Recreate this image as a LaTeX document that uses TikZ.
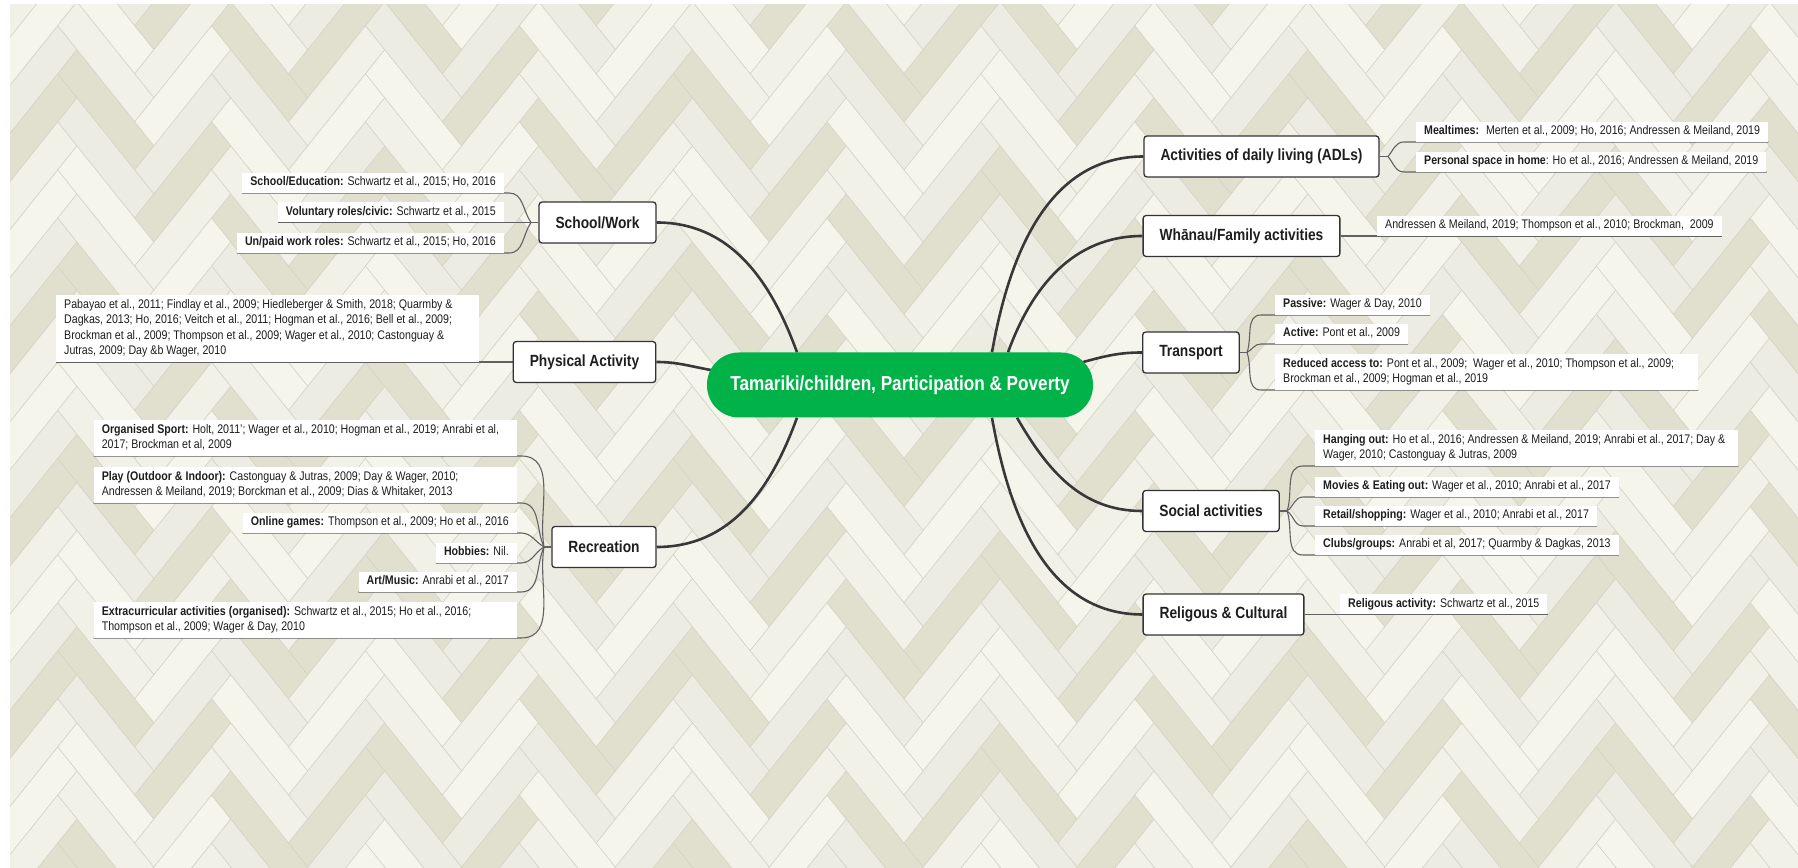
\documentclass[tikz,border=0pt]{standalone}
\usepackage{fontspec}
\setmainfont{Liberation Sans}[FakeStretch=0.85]
\usetikzlibrary{calc}
\definecolor{cgreen}{RGB}{0,178,72}
\definecolor{bgtex}{RGB}{236,236,224}
\definecolor{pk0}{RGB}{245,245,235}
\definecolor{pk1}{RGB}{236,236,226}
\definecolor{pk2}{RGB}{225,224,206}
\definecolor{pk3}{RGB}{241,241,231}
\definecolor{pkedge}{RGB}{212,212,200}
\definecolor{txt}{RGB}{30,30,30}
\newcommand\ls{\rule[-3pt]{0pt}{10pt}}
\newcommand\wl[1]{\makebox[407pt][l]{#1}}
\pgfdeclarelayer{bg}
\pgfsetlayers{bg,main}
\begin{document}
\begin{tikzpicture}[x=1pt,y=1pt,
  cnode/.style={fill=cgreen, rounded corners=32pt, minimum width=386pt, minimum height=65pt,
    text=white, font=\fontsize{20.2}{24}\selectfont\bfseries, inner sep=0pt},
  mainbox/.style={draw=black!80, line width=1.3pt, fill=white, rounded corners=3pt,
    inner xsep=16.5pt, inner ysep=0pt, minimum height=41pt, text=txt,
    font=\fontsize{16.2}{19}\selectfont\bfseries},
  lbl/.style={fill=white, inner xsep=8pt, inner ysep=4pt, text=txt, align=left,
    font=\fontsize{12.5}{15.5}\selectfont},
  branch/.style={draw=black!78, line width=2.6pt},
  twig/.style={draw=black!62, line width=1.1pt}
]
\useasboundingbox (0,0) rectangle (1798,867);

% central
\node[cnode] (c) at (900,482) {Tamariki/children, Participation \& Poverty};

% main topics
\node[mainbox] (sw)  at (597.5,644.5) {School/Work};
\node[mainbox] (pa)  at (584.5,505)   {Physical Activity};
\node[mainbox] (rec) at (604,320)     {Recreation};
\node[mainbox] (adl) at (1261.5,710.5){Activities of daily living (ADLs)};
\node[mainbox] (wh)  at (1241.5,631)  {Whānau/Family activities};
\node[mainbox] (tr)  at (1191,514.5)  {Transport};
\node[mainbox] (so)  at (1211,356)    {Social activities};
\node[mainbox] (rel) at (1223.5,252.5){Religous \& Cultural};

% forks
\coordinate (fsw)  at (531,644.5);
\coordinate (frec) at (544,320);
\coordinate (fadl) at (1388,710.5);
\coordinate (ftr)  at (1247,514.5);
\coordinate (fso)  at (1287,356);

% School/Work labels
\node[lbl, anchor=south east] (lse) at (504,674) {\ls\textbf{School/Education:} Schwartz et al., 2015; Ho, 2016};
\node[lbl, anchor=south east] (lvr) at (504,644.5) {\ls\textbf{Voluntary roles/civic:} Schwartz et al., 2015};
\node[lbl, anchor=south east] (lup) at (504,614) {\ls\textbf{Un/paid work roles:} Schwartz et al., 2015; Ho, 2016};

% Physical activity label
\node[lbl, anchor=south west] (lpa) at (56,505) {\ls\wl{Pabayao et al., 2011; Findlay et al., 2009; Hiedleberger \& Smith, 2018; Quarmby \&}\\ Dagkas, 2013; Ho, 2016; Veitch et al., 2011; Hogman et al., 2016; Bell et al., 2009;\\ Brockman et al., 2009; Thompson et al., 2009; Wager et al., 2010; Castonguay \&\\ Jutras, 2009; Day \&b Wager, 2010\ls};

% Recreation labels
\node[lbl, anchor=south east] (los) at (517,411) {\ls\wl{\textbf{Organised Sport:} Holt, 2011'; Wager et al., 2010; Hogman et al., 2019; Anrabi et al,}\\ 2017; Brockman et al, 2009\ls};
\node[lbl, anchor=south east] (lpl) at (517,364) {\ls\wl{\textbf{Play (Outdoor \& Indoor):} Castonguay \& Jutras, 2009; Day \& Wager, 2010;}\\ Andressen \& Meiland, 2019; Borckman et al., 2009; Dias \& Whitaker, 2013\ls};
\node[lbl, anchor=south east] (log) at (517,334) {\ls\textbf{Online games:} Thompson et al., 2009; Ho et al., 2016};
\node[lbl, anchor=south east] (lhb) at (517,304) {\ls\textbf{Hobbies:} Nil.};
\node[lbl, anchor=south east] (lam) at (517,275) {\ls\textbf{Art/Music:} Anrabi et al., 2017};
\node[lbl, anchor=south east] (lex) at (517,229) {\ls\wl{\textbf{Extracurricular activities (organised):} Schwartz et al., 2015; Ho et al., 2016;}\\ Thompson et al., 2009; Wager \& Day, 2010\ls};

% ADL labels
\node[lbl, anchor=south west] (lme) at (1416,725) {\ls\textbf{Mealtimes:}~ Merten et al., 2009; Ho, 2016; Andressen \& Meiland, 2019};
\node[lbl, anchor=south west] (lps) at (1416,695) {\ls\textbf{Personal space in home}: Ho et al., 2016; Andressen \& Meiland, 2019};

% Whanau label
\node[lbl, anchor=south west] (lwh) at (1377,631) {\ls Andressen \& Meiland, 2019; Thompson et al., 2010; Brockman,~ 2009};

% Transport labels
\node[lbl, anchor=south west] (lpas) at (1275,552) {\ls\textbf{Passive:} Wager \& Day, 2010};
\node[lbl, anchor=south west] (lact) at (1275,523) {\ls\textbf{Active:} Pont et al., 2009};
\node[lbl, anchor=south west] (lred) at (1275,477) {\ls\wl{\textbf{Reduced access to:} Pont et al., 2009;~ Wager et al., 2010; Thompson et al., 2009;}\\ Brockman et al., 2009; Hogman et al., 2019\ls};

% Social labels
\node[lbl, anchor=south west] (lho) at (1315,401) {\ls\wl{\textbf{Hanging out:} Ho et al., 2016; Andressen \& Meiland, 2019; Anrabi et al., 2017; Day \&}\\ Wager, 2010; Castonguay \& Jutras, 2009\ls};
\node[lbl, anchor=south west] (lmv) at (1315,370) {\ls\textbf{Movies \& Eating out:} Wager et al., 2010; Anrabi et al., 2017};
\node[lbl, anchor=south west] (lrt) at (1315,341) {\ls\textbf{Retail/shopping:} Wager et al., 2010; Anrabi et al., 2017};
\node[lbl, anchor=south west] (lcl) at (1315,312) {\ls\textbf{Clubs/groups:} Anrabi et al, 2017; Quarmby \& Dagkas, 2013};

% Religous label
\node[lbl, anchor=south west] (lrel) at (1340,252.5) {\ls\textbf{Religous activity:} Schwartz et al., 2015};

\begin{pgfonlayer}{bg}
  \fill[white] (0,0) rectangle (1798,867);
  % woven background
  \begin{scope}
    \clip (10,0) rectangle (1798,862);
    \fill[bgtex] (10,0) rectangle (1798,862);
    \begin{scope}[xscale=0.8, rotate=45, scale=34]
      \foreach \a in {-26,...,44}{
        \foreach \b in {-4,...,16}{
          \pgfmathtruncatemacro\ci{mod(abs(\a*7+\b*3),4)}
          \pgfmathtruncatemacro\cj{mod(abs(\a*5+\b*11+1),4)}
          \pgfmathtruncatemacro\u{\a+4*\b}
          \pgfmathtruncatemacro\v{\a-4*\b}
          \filldraw[fill=pk\ci, draw=pkedge, line width=0.6pt] (\u,\v) rectangle ++(4,1);
          \filldraw[fill=pk\cj, draw=pkedge, line width=0.6pt] (\u,\v+1) rectangle ++(1,4);
        }
      }
    \end{scope}
  \end{scope}

  % main branches
  \draw[branch] ([xshift=-103pt]c.north) to[out=110,in=0] (sw.east);
  \draw[branch] ([shift={(4pt,15pt)}]c.west) to[out=170,in=0] (pa.east);
  \draw[branch] ([xshift=-103pt]c.south) to[out=-110,in=0] (rec.east);
  \draw[branch] ([xshift=92pt]c.north) to[out=80,in=180] (adl.west);
  \draw[branch] ([xshift=108pt]c.north) to[out=70,in=180] (wh.west);
  \draw[branch] ([shift={(-10pt,23pt)}]c.east) to[out=15,in=180] (tr.west);
  \draw[branch] ([xshift=117pt]c.south) to[out=-60,in=180] (so.west);
  \draw[branch] ([xshift=92pt]c.south) to[out=-80,in=180] (rel.west);

  % School/Work twigs
  \draw[twig] (sw.west) -- (fsw);
  \draw[twig] (fsw) to[out=125,in=0] ([xshift=5pt]lse.south east) -- (lse.south west);
  \draw[twig] (fsw) -- (lvr.south west);
  \draw[twig] (fsw) to[out=235,in=0] ([xshift=5pt]lup.south east) -- (lup.south west);

  % Physical activity twig
  \draw[twig] (pa.west) -- (lpa.south west);

  % Recreation twigs
  \draw[twig] (rec.west) -- (frec);
  \draw[twig] (frec) to[out=100,in=0] ([xshift=4pt]los.south east) -- (los.south west);
  \draw[twig] (frec) to[out=115,in=0] ([xshift=4pt]lpl.south east) -- (lpl.south west);
  \draw[twig] (frec) to[out=150,in=0] ([xshift=4pt]log.south east) -- (log.south west);
  \draw[twig] (frec) to[out=210,in=0] ([xshift=4pt]lhb.south east) -- (lhb.south west);
  \draw[twig] (frec) to[out=245,in=0] ([xshift=4pt]lam.south east) -- (lam.south west);
  \draw[twig] (frec) to[out=260,in=0] ([xshift=4pt]lex.south east) -- (lex.south west);

  % ADL twigs
  \draw[twig] (adl.east) -- (fadl);
  \draw[twig] (fadl) to[out=50,in=180] ([xshift=-12pt]lme.south west) -- (lme.south east);
  \draw[twig] (fadl) to[out=-50,in=180] ([xshift=-12pt]lps.south west) -- (lps.south east);

  % Whanau twig
  \draw[twig] (wh.east) -- (lwh.south east);

  % Transport twigs
  \draw[twig] (tr.east) -- (ftr);
  \draw[twig] (ftr) to[out=70,in=180] ([xshift=-14pt]lpas.south west) -- (lpas.south east);
  \draw[twig] (ftr) to[out=30,in=180] ([xshift=-14pt]lact.south west) -- (lact.south east);
  \draw[twig] (ftr) to[out=-70,in=180] ([xshift=-14pt]lred.south west) -- (lred.south east);

  % Social twigs
  \draw[twig] (so.east) -- (fso);
  \draw[twig] (fso) to[out=70,in=180] ([xshift=-12pt]lho.south west) -- (lho.south east);
  \draw[twig] (fso) to[out=35,in=180] ([xshift=-12pt]lmv.south west) -- (lmv.south east);
  \draw[twig] (fso) to[out=-35,in=180] ([xshift=-12pt]lrt.south west) -- (lrt.south east);
  \draw[twig] (fso) to[out=-70,in=180] ([xshift=-12pt]lcl.south west) -- (lcl.south east);

  % Religous twig
  \draw[twig] (rel.east) -- (lrel.south east);
\end{pgfonlayer}
\end{tikzpicture}
\end{document}
